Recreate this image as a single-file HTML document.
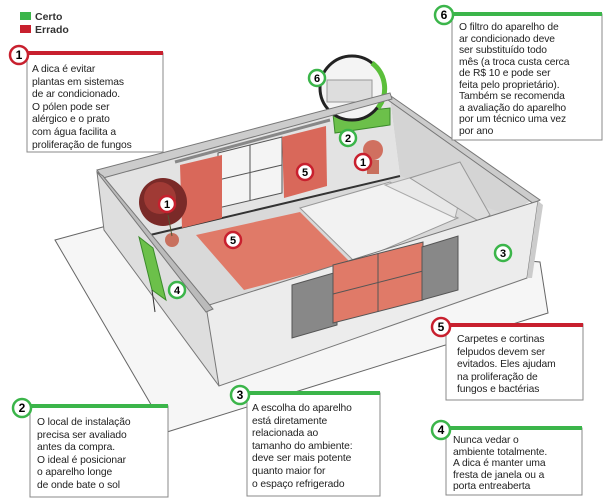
<!DOCTYPE html>
<html><head><meta charset="utf-8"><style>
html,body{margin:0;padding:0;background:#fff;}
body{width:608px;height:501px;position:relative;overflow:hidden;font-family:"Liberation Sans",sans-serif;}
.t{position:absolute;font-size:10.3px;line-height:12.6px;color:#222;white-space:pre;letter-spacing:-0.1px;}
</style></head><body>
<svg width="608" height="501" style="position:absolute;left:0;top:0">
<rect x="20" y="12" width="11" height="8" fill="#3bb54a"/>
<rect x="20" y="25" width="11" height="8" fill="#c8202e"/>
<text x="35" y="20" font-family="Liberation Sans" font-weight="bold" font-size="10.5" fill="#333">Certo</text>
<text x="35" y="33" font-family="Liberation Sans" font-weight="bold" font-size="10.5" fill="#333">Errado</text>

<polygon points="55,240 110,225 540,262 548,313 167,432" fill="#f6f6f6" stroke="#666" stroke-width="1"/>
<polygon points="97,172 208,307 219,386 104,230" fill="#dedede" stroke="#777" stroke-width="1"/>
<polygon points="103,178 390,98 400,176 150,235" fill="#e3e3e3"/>
<polygon points="390,98 533,200 500,218 400,176" fill="#d4d4d4"/>
<polygon points="150,235 400,176 505,214 210,305" fill="#d9d9d9"/>
<line x1="150" y1="235" x2="400" y2="176" stroke="#333" stroke-width="2"/>
<polygon points="218,153 282,137 282,193 218,208" fill="#f4f4f4" stroke="#555" stroke-width="1"/>
<line x1="250" y1="145" x2="250" y2="201" stroke="#555"/>
<line x1="218" y1="180" x2="282" y2="165" stroke="#555"/>
<line x1="175" y1="162" x2="330" y2="120" stroke="#888" stroke-width="3"/>
<polygon points="180,165 222,155 222,218 182,228" fill="#d9685a"/>
<polygon points="282,137 326,126 327,186 284,198" fill="#d9685a"/>
<polygon points="196,235 300,212 350,262 244,290" fill="#e07a68"/>
<polygon points="300,208 390,182 458,218 355,262" fill="#f2f2f2" stroke="#999"/>
<polygon points="385,185 430,172 462,190 455,218" fill="#e8e8e8" stroke="#aaa"/>
<polygon points="410,178 460,162 490,215 480,222" fill="#ddd" stroke="#999"/>
<circle cx="163" cy="202" r="24" fill="#7a2a28"/>
<circle cx="160" cy="198" r="16" fill="#a03a35"/>
<ellipse cx="172" cy="240" rx="7" ry="7" fill="#c8705e"/>
<line x1="168" y1="215" x2="172" y2="236" stroke="#553"/>
<circle cx="373" cy="150" r="10" fill="#d07060"/>
<rect x="367" y="160" width="12" height="14" fill="#c8705e"/>
<polygon points="333,114 390,108 390,125 335,133" fill="#6cc04a" stroke="#3a8a2a"/>
<circle cx="352" cy="88" r="32" fill="#f4f4f4" stroke="#222" stroke-width="3"/>
<path d="M372,63 A32,32 0 0 1 378,108" stroke="#5bbf3a" stroke-width="5" fill="none"/>
<rect x="327" y="80" width="45" height="22" fill="#ddd" stroke="#999"/>
<polygon points="388,94 540,200 534,204 388,100" fill="#ccc" stroke="#777"/>
<polygon points="97,170 390,93 392,99 103,178" fill="#ccc" stroke="#777"/>
<polygon points="206,306 538,201 527,278 219,386" fill="#ececec" stroke="#777" stroke-width="1"/>
<polygon points="97,172 103,176 213,309 206,312" fill="#bbb" stroke="#777"/>
<polygon points="538,201 543,205 532,278 527,278" fill="#ccc"/>
<polygon points="292,285 337,272 337,325 292,338" fill="#888" stroke="#555"/>
<polygon points="333,265 423,242 423,300 333,323" fill="#e07a68" stroke="#555"/>
<line x1="378" y1="254" x2="378" y2="312" stroke="#555"/>
<line x1="333" y1="294" x2="423" y2="271" stroke="#555"/>
<polygon points="422,247 458,236 458,290 422,300" fill="#888" stroke="#555"/>
<polygon points="139,237 153,248 166,300 152,290" fill="#6cc04a" stroke="#3a8a2a"/>
<line x1="152" y1="290" x2="155" y2="312" stroke="#333"/>

<g font-family="Liberation Sans" font-weight="bold" font-size="11" text-anchor="middle">
<circle cx="167" cy="204" r="8" fill="#fff" stroke="#c8202e" stroke-width="2.5"/><text x="167" y="208">1</text>
<circle cx="363" cy="162" r="8" fill="#fff" stroke="#c8202e" stroke-width="2.5"/><text x="363" y="166">1</text>
<circle cx="305" cy="172" r="8" fill="#fff" stroke="#c8202e" stroke-width="2.5"/><text x="305" y="176">5</text>
<circle cx="233" cy="240" r="8" fill="#fff" stroke="#c8202e" stroke-width="2.5"/><text x="233" y="244">5</text>
<circle cx="348" cy="138" r="8" fill="#fff" stroke="#3bb54a" stroke-width="2.5"/><text x="348" y="142">2</text>
<circle cx="317" cy="78" r="8" fill="#fff" stroke="#3bb54a" stroke-width="2.5"/><text x="317" y="82">6</text>
<circle cx="503" cy="253" r="8" fill="#fff" stroke="#3bb54a" stroke-width="2.5"/><text x="503" y="257">3</text>
<circle cx="177" cy="290" r="8" fill="#fff" stroke="#3bb54a" stroke-width="2.5"/><text x="177" y="294">4</text>
</g>

<g fill="#fff" stroke="#888" stroke-width="1">
<rect x="27" y="53" width="136" height="99"/>
<rect x="452" y="14" width="150" height="126"/>
<rect x="446" y="324" width="137" height="76"/>
<rect x="30" y="406" width="138" height="91"/>
<rect x="247" y="393" width="133" height="103"/>
<rect x="446" y="428" width="136" height="67"/>
</g>
<g stroke-width="4">
<line x1="20" y1="53" x2="163" y2="53" stroke="#c8202e"/>
<line x1="445" y1="14" x2="602" y2="14" stroke="#3bb54a"/>
<line x1="440" y1="325" x2="583" y2="325" stroke="#c8202e"/>
<line x1="22" y1="406" x2="168" y2="406" stroke="#3bb54a"/>
<line x1="240" y1="393" x2="380" y2="393" stroke="#3bb54a"/>
<line x1="440" y1="428" x2="582" y2="428" stroke="#3bb54a"/>
</g>
<g font-family="Liberation Sans" font-weight="bold" font-size="12" text-anchor="middle">
<circle cx="19" cy="55" r="9" fill="#fff" stroke="#c8202e" stroke-width="2.5"/><text x="19" y="59">1</text>
<circle cx="444" cy="15" r="9" fill="#fff" stroke="#3bb54a" stroke-width="2.5"/><text x="444" y="19">6</text>
<circle cx="441" cy="327" r="9" fill="#fff" stroke="#c8202e" stroke-width="2.5"/><text x="441" y="331">5</text>
<circle cx="22" cy="408" r="9" fill="#fff" stroke="#3bb54a" stroke-width="2.5"/><text x="22" y="412">2</text>
<circle cx="240" cy="395" r="9" fill="#fff" stroke="#3bb54a" stroke-width="2.5"/><text x="240" y="399">3</text>
<circle cx="441" cy="430" r="9" fill="#fff" stroke="#3bb54a" stroke-width="2.5"/><text x="441" y="434">4</text>
</g>
</svg>
<div class="t" style="left:32px;top:64px">A dica é evitar
plantas em sistemas
de ar condicionado.
O pólen pode ser
alérgico e o prato
com água facilita a
proliferação de fungos</div>
<div class="t" style="left:459px;top:22px;line-height:11.5px">O filtro do aparelho de
ar condicionado deve
ser substituído todo
mês (a troca custa cerca
de R$ 10 e pode ser
feita pelo proprietário).
Também se recomenda
a avaliação do aparelho
por um técnico uma vez
por ano</div>
<div class="t" style="left:457px;top:334px">Carpetes e cortinas
felpudos devem ser
evitados. Eles ajudam
na proliferação de
fungos e bactérias</div>
<div class="t" style="left:37px;top:417px">O local de instalação
precisa ser avaliado
antes da compra.
O ideal é posicionar
o aparelho longe
de onde bate o sol</div>
<div class="t" style="left:252px;top:403px">A escolha do aparelho
está diretamente
relacionada ao
tamanho do ambiente:
deve ser mais potente
quanto maior for
o espaço refrigerado</div>
<div class="t" style="left:453px;top:435px;line-height:11.6px">Nunca vedar o
ambiente totalmente.
A dica é manter uma
fresta de janela ou a
porta entreaberta</div>
</body></html>
